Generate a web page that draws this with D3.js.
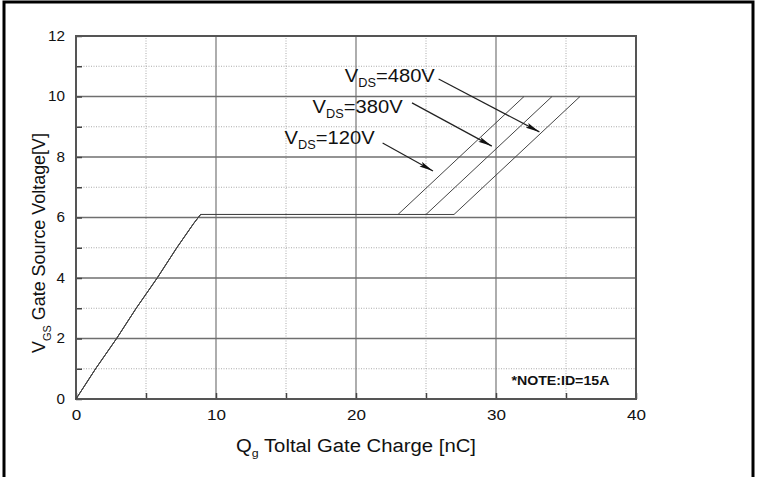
<!DOCTYPE html>
<html>
<head>
<meta charset="utf-8">
<script src="https://cdn.jsdelivr.net/npm/d3@7"></script>
<style>
  html, body { margin: 0; padding: 0; background: #fff; }
  svg { display: block; }
  text { font-family: "Liberation Sans", Arial, sans-serif; fill: #111; }
</style>
</head>
<body>
<svg id="chart" width="759" height="477"></svg>
<script>
// Gate charge characteristic: V_GS versus total gate charge Q_g
const xTicks = [0, 10, 20, 30, 40];
const yTicks = [0, 2, 4, 6, 8, 10, 12];
const xMinor = [5, 15, 25, 35];
const yMinor = [1, 3, 5, 7, 9, 11];

// Initial charging ramp up to the Miller plateau (shared by all V_DS)
const rampQ = [0, 1.4, 2.9, 4.3, 5.8, 7.2, 8.4, 8.9];
const rampV = [0, 1.0, 2.0, 3.0, 4.0, 5.0, 5.8, 6.1];

// Plateau end and final point for each drain-source voltage
const seriesNames = ["120V", "380V", "480V"];
const plateauEndQ = [23, 25, 27];
const plateauV = 6.1;
const finalQ = [32, 34, 36];
const finalV = [10, 10, 10];

// Annotation labels and arrows (data units)
const labelQ = [14.9, 16.9, 19.2];
const labelV = [8.43, 9.45, 10.48];
const arrowTailQ = [21.9, 24.0, 25.9];
const arrowTailV = [8.46, 9.79, 10.58];
const arrowHeadQ = [25.5, 29.7, 33.1];
const arrowHeadV = [7.54, 8.36, 8.83];

const svg = d3.select("#chart");
const W = 759, H = 477;
const FONT = "Liberation Sans, Arial, sans-serif";

// outer frame (top, left, right edges)
svg.append("path")
  .attr("d", `M4,${H + 2} L4,2 L753,2 L753,${H + 2}`)
  .attr("fill", "none").attr("stroke", "#000").attr("stroke-width", 3);

const x = d3.scaleLinear().domain([0, 40]).range([76, 636]);
const y = d3.scaleLinear().domain([0, 12]).range([399, 36]);

const g = svg.append("g");

// minor dotted grid
g.selectAll(".vminor").data(xMinor).join("line")
  .attr("x1", d => x(d)).attr("x2", d => x(d)).attr("y1", y(0)).attr("y2", y(12))
  .attr("stroke", "#aaa").attr("stroke-width", 1).attr("stroke-dasharray", "1,1.5");
g.selectAll(".hminor").data(yMinor).join("line")
  .attr("x1", x(0)).attr("x2", x(40)).attr("y1", d => y(d)).attr("y2", d => y(d))
  .attr("stroke", "#aaa").attr("stroke-width", 1).attr("stroke-dasharray", "1,1.5");

// major solid grid
g.selectAll(".vmajor").data(xTicks.slice(1, -1)).join("line")
  .attr("x1", d => x(d)).attr("x2", d => x(d)).attr("y1", y(0)).attr("y2", y(12))
  .attr("stroke", "#777").attr("stroke-width", 1.2);
g.selectAll(".hmajor").data(yTicks.slice(1, -1)).join("line")
  .attr("x1", x(0)).attr("x2", x(40)).attr("y1", d => y(d)).attr("y2", d => y(d))
  .attr("stroke", "#6f6f6f").attr("stroke-width", 1.4);

// axes with inward ticks
const xAxis = d3.axisBottom(x).tickValues(d3.range(0, 41, 5)).tickSize(-6).tickFormat(d => xTicks.includes(d) ? d : "");
const yAxis = d3.axisLeft(y).tickValues(d3.range(0, 13, 1)).tickSize(-6).tickFormat(d => yTicks.includes(d) ? d : "");

function styleTickText(sel, perChar) {
  sel.attr("font-size", 14).attr("fill", "#111").attr("font-family", FONT)
    .each(function () {
      const s = String(d3.select(this).text());
      if (s.length) d3.select(this).attr("textLength", perChar * s.length).attr("lengthAdjust", "spacingAndGlyphs");
    });
}

const gx = svg.append("g").attr("transform", `translate(0,${y(0)})`).call(xAxis);
gx.select(".domain").remove();
gx.selectAll(".tick line").attr("stroke", "#444").attr("stroke-width", 1.5);
gx.selectAll(".tick text").attr("dy", "1.3em").call(styleTickText, 9.5);

const gy = svg.append("g").attr("transform", `translate(${x(0)},0)`).call(yAxis);
gy.select(".domain").remove();
gy.selectAll(".tick line").attr("stroke", "#444").attr("stroke-width", 1.5);
gy.selectAll(".tick text").attr("x", -11).call(styleTickText, 8.5);

// plot frame
svg.append("rect")
  .attr("x", x(0)).attr("y", y(12)).attr("width", x(40) - x(0)).attr("height", y(0) - y(12))
  .attr("fill", "none").attr("stroke", "#555").attr("stroke-width", 2);

// curves
const line = d3.line().x(d => x(d[0])).y(d => y(d[1]));
const ramp = rampQ.map((q, i) => [q, rampV[i]]);
seriesNames.forEach((name, i) => {
  const pts = ramp.concat([[plateauEndQ[i], plateauV], [finalQ[i], finalV[i]]]);
  svg.append("path").datum(pts)
    .attr("d", line)
    .attr("fill", "none").attr("stroke", "#444").attr("stroke-width", 1);
});

// arrowhead marker
svg.append("defs").append("marker")
  .attr("id", "arrow").attr("viewBox", "0 0 14 6").attr("refX", 14).attr("refY", 3)
  .attr("markerWidth", 14).attr("markerHeight", 6).attr("markerUnits", "userSpaceOnUse")
  .attr("orient", "auto")
  .append("path").attr("d", "M0,0.4 L14,3 L0,5.6 L2.5,3 Z").attr("fill", "#111");

seriesNames.forEach((name, i) => {
  svg.append("line")
    .attr("x1", x(arrowTailQ[i])).attr("y1", y(arrowTailV[i]))
    .attr("x2", x(arrowHeadQ[i])).attr("y2", y(arrowHeadV[i]))
    .attr("stroke", "#222").attr("stroke-width", 1.2)
    .attr("marker-end", "url(#arrow)");
  const t = svg.append("text")
    .attr("x", x(labelQ[i])).attr("y", y(labelV[i]))
    .attr("font-size", 19)
    .attr("textLength", 90).attr("lengthAdjust", "spacingAndGlyphs");
  t.append("tspan").text("V");
  t.append("tspan").attr("font-size", 12).attr("dy", 5).text("DS");
  t.append("tspan").attr("dy", -5).text("=" + name);
});

// note
svg.append("text")
  .attr("x", x(31.1)).attr("y", y(0.45))
  .attr("font-size", 13).attr("font-weight", "bold")
  .attr("textLength", 98).attr("lengthAdjust", "spacingAndGlyphs")
  .text("*NOTE:ID=15A");

// x-axis title
const xt = svg.append("text")
  .attr("x", 236).attr("y", 452)
  .attr("font-size", 18)
  .attr("textLength", 240).attr("lengthAdjust", "spacingAndGlyphs");
xt.append("tspan").text("Q");
xt.append("tspan").attr("font-size", 11).attr("dy", 5).text("g");
xt.append("tspan").attr("dy", -5).text(" Toltal Gate Charge [nC]");

// y-axis title
const yt = svg.append("text")
  .attr("transform", `translate(45,353) rotate(-90)`)
  .attr("font-size", 18)
  .attr("textLength", 220).attr("lengthAdjust", "spacingAndGlyphs");
yt.append("tspan").text("V");
yt.append("tspan").attr("font-size", 11).attr("dy", 6).text("GS");
yt.append("tspan").attr("dy", -6).text(" Gate Source Voltage[V]");
</script>
</body>
</html>
